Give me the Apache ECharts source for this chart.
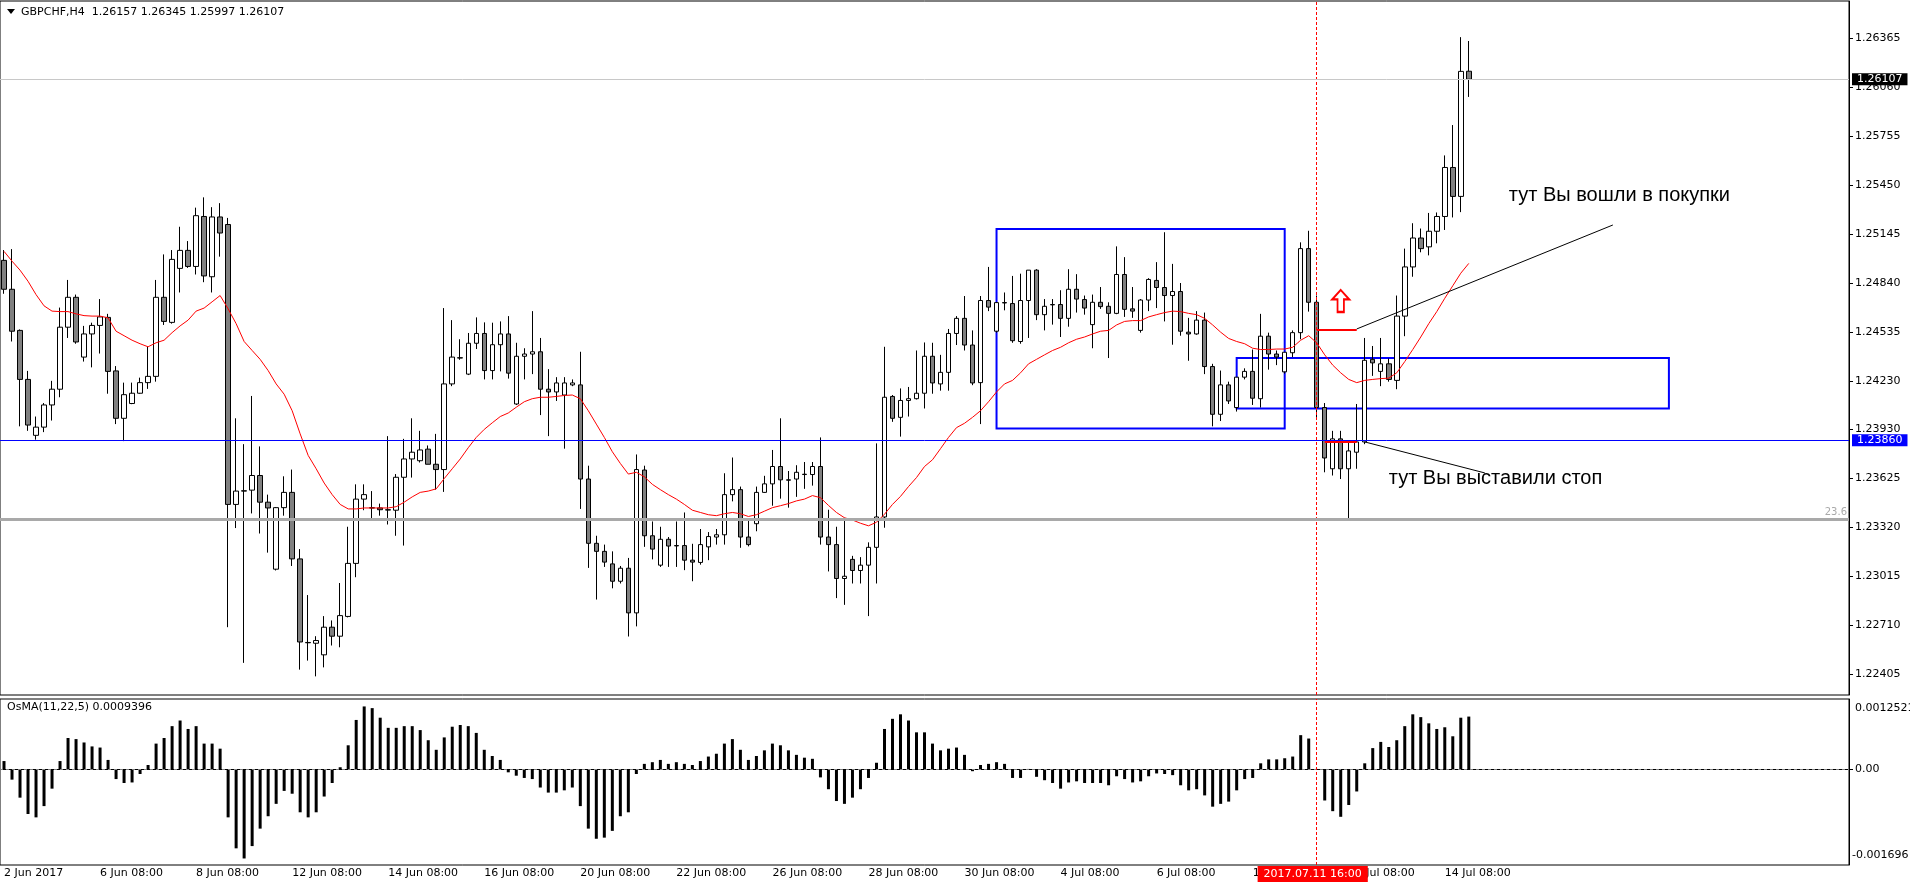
<!DOCTYPE html>
<html>
<head>
<meta charset="utf-8">
<script src="https://cdn.jsdelivr.net/npm/echarts@6/dist/echarts.min.js"></script>
<style>
html, body { margin: 0; padding: 0; background: #fff; }
#chart { width: 1910px; height: 884px; }
</style>
</head>
<body>
<div id="chart"></div>
<script>
// GBPCHF H4, 2 Jun 2017 08:00 .. 14 Jul 2017 20:00 (one bar every 4 hours)
const opens = [
  1.24980,1.24800,1.24544,1.24239,1.23891,1.23942,1.24080,1.24178,1.24564,1.24750,
  1.24378,1.24522,1.24575,1.24625,1.24292,1.23997,1.24089,1.24153,1.24219,1.24258,
  1.24750,1.24594,1.24930,1.25042,1.24942,1.25253,1.24878,1.25250,1.25203,1.23461,
  1.23546,1.23550,1.23641,1.23475,1.23058,1.23441,1.23536,1.23122,1.22602,1.22597,
  1.22525,1.22697,1.22641,1.22764,1.23094,1.23494,1.23440,1.23439,1.23428,1.23425,
  1.23630,1.23744,1.23733,1.23805,1.23711,1.23678,1.24211,1.24374,1.24272,1.24464,
  1.24525,1.24294,1.24455,1.24522,1.24086,1.24383,1.24397,1.24411,1.24178,1.24161,
  1.24142,1.24205,1.24205,1.23619,1.23219,1.23169,1.23091,1.22983,1.23064,1.22786,
  1.23675,1.23266,1.23083,1.23244,1.23205,1.23205,1.23114,1.23100,1.23197,1.23258,
  1.23272,1.23522,1.23553,1.23258,1.23341,1.23536,1.23589,1.23697,1.23614,1.23619,
  1.23649,1.23647,1.23697,1.23258,1.23211,1.23000,1.23119,1.23050,1.23083,1.23194,
  1.23383,1.24133,1.24003,1.24108,1.24119,1.24153,1.24383,1.24211,1.24283,1.24525,
  1.24619,1.24453,1.24219,1.24730,1.24539,1.24717,1.24711,1.24475,1.24730,1.24919,
  1.24642,1.24705,1.24705,1.24619,1.24800,1.24736,1.24580,1.24719,1.24694,1.24650,
  1.24892,1.24678,1.24544,1.24733,1.24855,1.24811,1.24761,1.24786,1.24533,1.24522,
  1.24608,1.24319,1.24022,1.24205,1.24064,1.24253,1.24289,1.24119,1.24508,1.24397,
  1.24286,1.24405,1.24530,1.25053,1.24719,1.24064,1.23683,1.23869,1.23683,1.23786,
  1.23850,1.24364,1.24289,1.24336,1.24233,1.24633,1.24939,1.25119,1.25064,1.25161,
  1.25253,1.25558,1.25378,1.26157
];
const highs = [
  1.25044,1.25050,1.24550,1.24292,1.24008,1.24092,1.24230,1.24686,1.24858,1.24767,
  1.24572,1.24592,1.24739,1.24647,1.24322,1.24219,1.24219,1.24250,1.24444,1.24858,
  1.25017,1.25044,1.25189,1.25100,1.25308,1.25372,1.25311,1.25336,1.25244,1.23997,
  1.23836,1.24136,1.23822,1.23522,1.23445,1.23636,1.23678,1.23183,1.22897,1.22641,
  1.22766,1.22739,1.22972,1.23322,1.23586,1.23586,1.23544,1.23466,1.23886,1.23650,
  1.23869,1.23997,1.23919,1.23828,1.23900,1.24683,1.24608,1.24489,1.24528,1.24625,
  1.24594,1.24592,1.24600,1.24633,1.24467,1.24433,1.24664,1.24497,1.24303,1.24253,
  1.24253,1.24239,1.24411,1.23702,1.23266,1.23211,1.23169,1.23078,1.23128,1.23772,
  1.23702,1.23355,1.23322,1.23258,1.23355,1.23411,1.23216,1.23308,1.23289,1.23308,
  1.23655,1.23753,1.23572,1.23369,1.23572,1.23639,1.23800,1.23997,1.23669,1.23705,
  1.23725,1.23725,1.23878,1.23428,1.23322,1.23378,1.23141,1.23133,1.23225,1.23841,
  1.24442,1.24142,1.24183,1.24192,1.24419,1.24469,1.24467,1.24392,1.24553,1.24633,
  1.24758,1.24544,1.24758,1.24939,1.24720,1.24780,1.24883,1.24897,1.24919,1.24925,
  1.24739,1.24739,1.24794,1.24925,1.24894,1.24761,1.24767,1.24814,1.24719,1.25067,
  1.25000,1.24814,1.24739,1.24869,1.24969,1.25155,1.24958,1.24839,1.24622,1.24664,
  1.24655,1.24336,1.24294,1.24225,1.24253,1.24308,1.24425,1.24647,1.24530,1.24419,
  1.24408,1.24544,1.25092,1.25164,1.24761,1.24092,1.23919,1.23919,1.23850,1.24086,
  1.24497,1.24447,1.24497,1.24369,1.24761,1.25053,1.25211,1.25178,1.25275,1.25278,
  1.25633,1.25822,1.26369,1.26345
];
const lows = [
  1.24772,1.24475,1.23947,1.23919,1.23864,1.23911,1.23983,1.24128,1.24497,1.24461,
  1.24350,1.24314,1.24400,1.24150,1.23961,1.23855,1.24085,1.24150,1.24180,1.24225,
  1.24578,1.24586,1.24780,1.24933,1.24892,1.24844,1.24780,1.25003,1.22697,1.23314,
  1.22475,1.23405,1.23280,1.23161,1.23050,1.23391,1.23078,1.22433,1.22489,1.22391,
  1.22447,1.22583,1.22572,1.22758,1.23008,1.23425,1.23364,1.23391,1.23336,1.23266,
  1.23205,1.23628,1.23722,1.23711,1.23553,1.23539,1.24197,1.24361,1.24266,1.24428,
  1.24239,1.24239,1.24289,1.24244,1.24080,1.24239,1.24272,1.24017,1.23886,1.24105,
  1.23808,1.24197,1.23433,1.23066,1.22869,1.23072,1.22939,1.22969,1.22639,1.22702,
  1.23197,1.23119,1.23072,1.23072,1.23072,1.23052,1.22983,1.23086,1.23114,1.23211,
  1.23211,1.23480,1.23191,1.23200,1.23294,1.23533,1.23453,1.23497,1.23441,1.23508,
  1.23558,1.23578,1.23211,1.23044,1.22878,1.22836,1.22969,1.22969,1.22766,1.22969,
  1.23316,1.23975,1.23883,1.24008,1.24114,1.24058,1.24150,1.24169,1.24169,1.24453,
  1.24419,1.24203,1.23961,1.24664,1.24530,1.24669,1.24467,1.24461,1.24497,1.24608,
  1.24544,1.24580,1.24503,1.24567,1.24655,1.24642,1.24433,1.24678,1.24372,1.24645,
  1.24628,1.24622,1.24530,1.24664,1.24683,1.24600,1.24455,1.24511,1.24355,1.24517,
  1.24272,1.23947,1.23980,1.24086,1.24039,1.24239,1.24080,1.24064,1.24300,1.24328,
  1.24275,1.24378,1.24489,1.24661,1.24003,1.23661,1.23641,1.23619,1.23372,1.23683,
  1.23836,1.24261,1.24197,1.24225,1.24178,1.24508,1.24878,1.25030,1.25011,1.25086,
  1.25169,1.25247,1.25280,1.25997
];
const closes = [
  1.24800,1.24539,1.24239,1.23955,1.23942,1.24080,1.24178,1.24564,1.24750,1.24472,
  1.24522,1.24575,1.24628,1.24289,1.23997,1.24144,1.24153,1.24219,1.24258,1.24750,
  1.24600,1.24986,1.25042,1.24942,1.25258,1.24883,1.25250,1.25150,1.23461,1.23544,
  1.23544,1.23641,1.23475,1.23439,1.23441,1.23536,1.23122,1.22605,1.22600,1.22614,
  1.22697,1.22641,1.22769,1.23094,1.23494,1.23522,1.23439,1.23428,1.23426,1.23630,
  1.23744,1.23786,1.23800,1.23711,1.23678,1.24211,1.24378,1.24372,1.24464,1.24525,
  1.24294,1.24455,1.24522,1.24278,1.24383,1.24397,1.24411,1.24178,1.24161,1.24217,
  1.24217,1.24217,1.23619,1.23219,1.23169,1.23102,1.22983,1.23064,1.22786,1.23678,
  1.23266,1.23183,1.23244,1.23202,1.23203,1.23114,1.23102,1.23211,1.23261,1.23272,
  1.23522,1.23553,1.23258,1.23211,1.23536,1.23589,1.23697,1.23614,1.23612,1.23661,
  1.23647,1.23697,1.23258,1.23211,1.23000,1.23014,1.23050,1.23083,1.23194,1.23383,
  1.24128,1.23997,1.24108,1.24119,1.24153,1.24383,1.24217,1.24283,1.24525,1.24619,
  1.24453,1.24217,1.24730,1.24689,1.24717,1.24715,1.24480,1.24730,1.24919,1.24642,
  1.24694,1.24703,1.24619,1.24800,1.24739,1.24683,1.24719,1.24692,1.24650,1.24892,
  1.24675,1.24664,1.24733,1.24861,1.24811,1.24761,1.24786,1.24539,1.24522,1.24608,
  1.24319,1.24022,1.24205,1.24105,1.24253,1.24289,1.24122,1.24508,1.24397,1.24378,
  1.24408,1.24530,1.25053,1.24719,1.24064,1.23750,1.23869,1.23683,1.23794,1.23850,
  1.24358,1.24342,1.24336,1.24239,1.24633,1.24939,1.25119,1.25053,1.25161,1.25253,
  1.25558,1.25378,1.26156,1.26107
];
// red moving average
const maLine = [
  1.25036,1.24975,1.24919,1.24850,1.24767,1.24697,1.24664,1.24661,1.24661,1.24647,
  1.24636,1.24633,1.24633,1.24622,1.24539,1.24511,1.24483,1.24461,1.24442,1.24467,
  1.24483,1.24530,1.24572,1.24608,1.24664,1.24683,1.24722,1.24761,1.24678,1.24586,
  1.24475,1.24419,1.24364,1.24294,1.24211,1.24147,1.24044,1.23900,1.23766,1.23683,
  1.23594,1.23522,1.23461,1.23433,1.23433,1.23439,1.23439,1.23439,1.23439,1.23447,
  1.23475,1.23508,1.23536,1.23544,1.23558,1.23622,1.23683,1.23744,1.23814,1.23878,
  1.23928,1.23969,1.24008,1.24030,1.24066,1.24100,1.24119,1.24128,1.24128,1.24133,
  1.24139,1.24142,1.24119,1.24044,1.23961,1.23878,1.23789,1.23716,1.23650,1.23661,
  1.23633,1.23586,1.23553,1.23522,1.23494,1.23461,1.23425,1.23411,1.23397,1.23391,
  1.23403,1.23411,1.23403,1.23386,1.23397,1.23419,1.23441,1.23453,1.23466,1.23483,
  1.23494,1.23516,1.23503,1.23455,1.23411,1.23378,1.23364,1.23344,1.23328,1.23350,
  1.23400,1.23461,1.23511,1.23572,1.23628,1.23697,1.23739,1.23808,1.23878,1.23939,
  1.23966,1.24003,1.24044,1.24100,1.24161,1.24211,1.24233,1.24280,1.24336,1.24364,
  1.24392,1.24419,1.24439,1.24467,1.24489,1.24503,1.24522,1.24539,1.24544,1.24578,
  1.24600,1.24605,1.24605,1.24628,1.24642,1.24655,1.24664,1.24661,1.24650,1.24642,
  1.24619,1.24578,1.24533,1.24494,1.24475,1.24461,1.24433,1.24425,1.24425,1.24428,
  1.24428,1.24439,1.24483,1.24511,1.24467,1.24392,1.24328,1.24280,1.24239,1.24219,
  1.24233,1.24239,1.24244,1.24247,1.24280,1.24350,1.24425,1.24503,1.24586,1.24661,
  1.24744,1.24822,1.24900,1.24961
];
// OsMA(11,22,5) histogram
const osma = [
  0.00015,-0.00018,-0.00050,-0.00079,-0.00085,-0.00065,-0.00034,0.00015,0.00056,0.00054,
  0.00048,0.00041,0.00039,0.00017,-0.00017,-0.00024,-0.00023,-0.00008,0.00008,0.00046,
  0.00056,0.00077,0.00087,0.00072,0.00077,0.00046,0.00046,0.00037,-0.00085,-0.00140,
  -0.00158,-0.00136,-0.00105,-0.00083,-0.00061,-0.00038,-0.00043,-0.00076,-0.00085,-0.00076,
  -0.00048,-0.00024,0.00004,0.00043,0.00088,0.00112,0.00109,0.00092,0.00074,0.00074,
  0.00077,0.00077,0.00070,0.00052,0.00035,0.00057,0.00076,0.00079,0.00077,0.00065,
  0.00035,0.00024,0.00017,-0.00005,-0.00011,-0.00015,-0.00017,-0.00032,-0.00041,-0.00041,
  -0.00037,-0.00032,-0.00065,-0.00105,-0.00123,-0.00121,-0.00109,-0.00083,-0.00076,-0.00008,
  0.00010,0.00013,0.00017,0.00010,0.00013,0.00010,0.00008,0.00015,0.00023,0.00028,
  0.00046,0.00054,0.00035,0.00017,0.00024,0.00034,0.00046,0.00043,0.00034,0.00026,
  0.00021,0.00019,-0.00014,-0.00035,-0.00056,-0.00061,-0.00050,-0.00035,-0.00015,0.00012,
  0.00072,0.00090,0.00098,0.00087,0.00066,0.00066,0.00046,0.00034,0.00037,0.00039,
  0.00026,-0.00003,0.00008,0.00010,0.00013,0.00010,-0.00015,-0.00015,0.00001,-0.00013,
  -0.00019,-0.00024,-0.00034,-0.00023,-0.00021,-0.00024,-0.00024,-0.00024,-0.00028,-0.00012,
  -0.00017,-0.00023,-0.00021,-0.00012,-0.00007,-0.00008,-0.00010,-0.00028,-0.00037,-0.00035,
  -0.00046,-0.00066,-0.00061,-0.00057,-0.00037,-0.00017,-0.00015,0.00011,0.00018,0.00018,
  0.00020,0.00023,0.00061,0.00055,0.00001,-0.00055,-0.00074,-0.00084,-0.00063,-0.00039,
  0.00011,0.00038,0.00049,0.00040,0.00052,0.00077,0.00098,0.00093,0.00082,0.00072,
  0.00075,0.00059,0.00092,0.00094
];
const timeLabels = ['2 Jun 2017','6 Jun 08:00','8 Jun 08:00','12 Jun 08:00','14 Jun 08:00',
  '16 Jun 08:00','20 Jun 08:00','22 Jun 08:00','26 Jun 08:00','28 Jun 08:00','30 Jun 08:00',
  '4 Jul 08:00','6 Jul 08:00','10 Jul 08:00','12 Jul 08:00','14 Jul 08:00'];
const priceTicks = [1.26365,1.26060,1.25755,1.25450,1.25145,1.24840,1.24535,1.24230,
  1.23930,1.23625,1.23320,1.23015,1.22710,1.22405];
const osmaRange = [-0.001696, 0.0012521];
const bidPrice = 1.26107;
const stopPrice = 1.23860;
const fibPrice = 1.23370;

const SLOTS = 231;      // bars that fit across the window
const LABEL_STEP = 12;  // a time label every 2 days
const cats = [];
for (let i = 0; i < SLOTS; i++) cats.push(i);
const candles = opens.map((o, i) => [o, closes[i], lows[i], highs[i]]);

const FONT = 'DejaVu Sans';
const showTime = (i) => i % LABEL_STEP === 0 && i / LABEL_STEP < timeLabels.length;
const boxLabel = (txt, bg) => ({
  show: true, position: 'end', distance: 3, formatter: txt,
  backgroundColor: bg, color: '#fff', padding: [1, 5, 0, 5],
  fontFamily: FONT, fontSize: 11
});

const chart = echarts.init(document.getElementById('chart'));

const option = {
  animation: false,
  backgroundColor: '#ffffff',
  textStyle: { fontFamily: FONT },
  grid: [
    { left: 0, top: 1, width: 1849, height: 694, show: true, borderColor: '#000', borderWidth: 1 },
    { left: 0, top: 699, width: 1849, height: 166, show: true, borderColor: '#000', borderWidth: 1 }
  ],
  xAxis: [
    {
      type: 'category', gridIndex: 0, data: cats,
      axisLine: { show: false }, axisTick: { show: false }, axisLabel: { show: false }
    },
    {
      type: 'category', gridIndex: 1, data: cats,
      axisLine: { lineStyle: { color: '#000' } },
      axisTick: { interval: showTime, alignWithLabel: true, length: 4, lineStyle: { color: '#000' } },
      axisLabel: {
        interval: showTime, align: 'left', margin: 3,
        fontFamily: FONT, fontSize: 11, color: '#000',
        formatter: (v, i) => timeLabels[i / LABEL_STEP]
      }
    }
  ],
  yAxis: [
    {
      type: 'value', gridIndex: 0, position: 'right',
      min: 1.22275, max: 1.26594,
      splitLine: { show: false },
      axisLine: { show: true, lineStyle: { color: '#000' } },
      axisTick: { show: true, customValues: priceTicks, length: 4, lineStyle: { color: '#000' } },
      axisLabel: {
        customValues: priceTicks, margin: 6,
        fontFamily: FONT, fontSize: 11, color: '#000',
        formatter: (v) => v.toFixed(5)
      }
    },
    {
      type: 'value', gridIndex: 1, position: 'right',
      min: osmaRange[0], max: osmaRange[1],
      splitLine: { show: false },
      axisLine: { show: true, lineStyle: { color: '#000' } },
      axisTick: { show: true, customValues: [0], length: 4, lineStyle: { color: '#000' } },
      axisLabel: {
        customValues: [0], margin: 6,
        fontFamily: FONT, fontSize: 11, color: '#000',
        formatter: () => '0.00'
      }
    }
  ],
  series: [
    {
      name: 'GBPCHF', type: 'candlestick', xAxisIndex: 0, yAxisIndex: 0,
      data: candles, barWidth: 5,
      itemStyle: {
        color: '#ffffff', color0: '#808080',
        borderColor: '#000000', borderColor0: '#000000', borderWidth: 1
      },
      markArea: {
        silent: true,
        itemStyle: { color: 'rgba(0,0,0,0)', borderColor: '#0000ff', borderWidth: 2 },
        data: [
          [{ coord: [124, 1.25175] }, { coord: [160, 1.23933] }],
          [{ coord: [154, 1.24372] }, { coord: [208, 1.24058] }]
        ]
      },
      markLine: {
        silent: true, symbol: ['none', 'none'], precision: 5,
        label: { show: false },
        data: [
          { xAxis: 164, lineStyle: { color: '#ff0000', width: 1, type: [3, 2] } },
          [{ coord: [164, 1.24550] }, { coord: [169, 1.24550], lineStyle: { color: '#ff0000', width: 2, type: 'solid' } }],
          [{ coord: [165, 1.23850] }, { coord: [169, 1.23850], lineStyle: { color: '#ff0000', width: 2, type: 'solid' } }],
          [{ coord: [169, 1.24553] }, { coord: [201, 1.25200], lineStyle: { color: '#000', width: 1, type: 'solid' } }],
          [{ coord: [170, 1.23850] }, { coord: [185, 1.23657], lineStyle: { color: '#000', width: 1, type: 'solid' } }]
        ]
      },
      markPoint: {
        silent: true,
        data: [{
          coord: [167, 1.24727],
          symbol: 'path://M8,0 L16,9 L11,9 L11,21 L5,21 L5,9 L0,9 Z',
          symbolSize: [17, 22],
          itemStyle: { color: '#ffffff', borderColor: '#ff0000', borderWidth: 2 },
          label: { show: false }
        }]
      },
      z: 3
    },
    {
      name: 'MA', type: 'line', xAxisIndex: 0, yAxisIndex: 0,
      data: maLine, symbol: 'none',
      lineStyle: { color: '#ff0000', width: 1 }, z: 4,
      markLine: {
        silent: true, symbol: ['none', 'none'], precision: 5,
        label: { show: false },
        data: [
          { yAxis: bidPrice, lineStyle: { color: '#c8c8c8', width: 1, type: 'solid' },
            label: boxLabel('1.26107', '#000000') },
          { yAxis: fibPrice, lineStyle: { color: '#a9a9a9', width: 3, type: 'solid' },
            label: { show: true, position: 'insideEndTop', distance: 2, formatter: '23.6',
                     color: '#a9a9a9', fontFamily: FONT, fontSize: 10 } },
          { yAxis: stopPrice, lineStyle: { color: '#0000ff', width: 1, type: 'solid' },
            label: boxLabel('1.23860', '#0000ff') }
        ]
      }
    },
    {
      name: 'OsMA', type: 'bar', xAxisIndex: 1, yAxisIndex: 1,
      data: osma, barWidth: 3,
      itemStyle: { color: '#000000' },
      markLine: {
        silent: true, symbol: ['none', 'none'], precision: 7, label: { show: false },
        data: [
          { yAxis: 0, lineStyle: { color: '#808080', width: 1, type: [3, 3] } },
          { xAxis: 164, lineStyle: { color: '#ff0000', width: 1, type: [3, 2] } }
        ]
      }
    }
  ]
};
chart.setOption(option);

// notes written on the chart, anchored to bar index and price
const notes = [
  { text: 'тут Вы вошли в покупки', at: [188, 1.25381] },
  { text: 'тут Вы выставили стоп', at: [173, 1.23620] }
];
const graphics = [];
notes.forEach(n => {
  const p = chart.convertToPixel({ gridIndex: 0 }, n.at);
  graphics.push({
    type: 'text', x: p[0], y: p[1], z: 20,
    style: { text: n.text, fill: '#000', font: '20px "Liberation Sans"', textAlign: 'left', textVerticalAlign: 'middle' }
  });
});

// header line and indicator name
graphics.push({ type: 'polygon', z: 20, shape: { points: [[7, 9], [15, 9], [11, 14]] }, style: { fill: '#000' } });
graphics.push({
  type: 'text', x: 21, y: 12, z: 20,
  style: { text: 'GBPCHF,H4  1.26157 1.26345 1.25997 1.26107', fill: '#000', font: '11px "DejaVu Sans"', textVerticalAlign: 'middle' }
});
graphics.push({
  type: 'text', x: 7, y: 707, z: 20,
  style: { text: 'OsMA(11,22,5) 0.0009396', fill: '#000', font: '11px "DejaVu Sans"', textVerticalAlign: 'middle' }
});

// OsMA scale extremes, printed inside the panel edge like the terminal does
const topY = chart.convertToPixel({ yAxisIndex: 1 }, osmaRange[1]);
const botY = chart.convertToPixel({ yAxisIndex: 1 }, osmaRange[0]);
graphics.push({
  type: 'text', x: 1855, y: topY + 9, z: 20,
  style: { text: '0.0012521', fill: '#000', font: '11px "DejaVu Sans"', textVerticalAlign: 'middle' }
});
graphics.push({
  type: 'text', x: 1852, y: botY - 10, z: 20,
  style: { text: '-0.001696', fill: '#000', font: '11px "DejaVu Sans"', textVerticalAlign: 'middle' }
});

// highlighted time of the vertical marker
const markX = chart.convertToPixel({ xAxisIndex: 1 }, 164);
graphics.push({
  type: 'text', x: markX - 4, y: 874, z: 30,
  style: {
    text: '2017.07.11 16:00', fill: '#fff', font: '11px "DejaVu Sans"',
    textAlign: 'center', textVerticalAlign: 'middle',
    backgroundColor: '#ff0000', padding: [3, 6, 2, 6]
  }
});

chart.setOption({ graphic: graphics });
</script>
</body>
</html>
